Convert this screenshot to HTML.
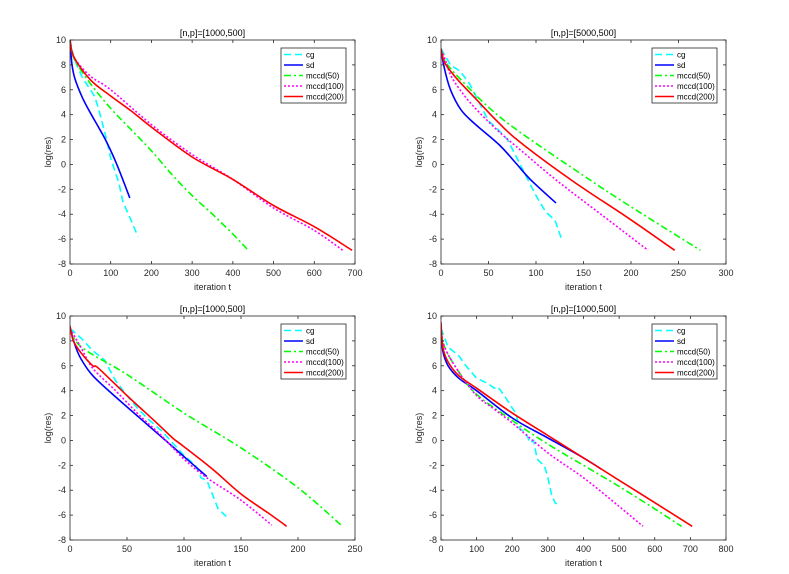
<!DOCTYPE html>
<html><head><meta charset="utf-8"><style>
html,body{margin:0;padding:0;background:#fff;width:789px;height:574px;overflow:hidden}
svg{font-family:"Liberation Sans",sans-serif}
</style></head><body>
<svg id="fig" width="789" height="574" viewBox="0 0 789 574" xmlns="http://www.w3.org/2000/svg"></svg>
<script>
const seriesNames = ["cg","sd","mccd(50)","mccd(100)","mccd(200)"];
const seriesColors = ["#00ffff","#0000ff","#00ff00","#ff00ff","#ff0000"];
const seriesDash = ["7,4","","7,3,2,3","2,2",""];
const panelTitles = ["[n,p]=[1000,500]","[n,p]=[5000,500]","[n,p]=[1000,500]","[n,p]=[1000,500]"];
const panelXMax = [700,300,250,800];
const panelXTicks = [[0,100,200,300,400,500,600,700],[0,50,100,150,200,250,300],[0,50,100,150,200,250],[0,100,200,300,400,500,600,700,800]];
const yTicks = [-8,-6,-4,-2,0,2,4,6,8,10];

// panel 1
const p1x = [[0,10,30,60,70,90,100,120,130,150,167],[0,5,12,30,49,70,90,115,147],[0,10,50,100,150,200,250,300,350,400,435],[0,10,50,100,200,300,400,500,600,670],[0,10,50,100,150,200,300,400,500,600,693]];
const p1y = [[10,8.5,7,5.5,4.5,2,0.5,-1.5,-3,-4.5,-5.8],[10,8,6.9,5.4,4.2,3.0,1.8,0,-2.7],[10,8.5,6.5,4.5,2.8,1.1,-0.8,-2.5,-4,-5.6,-6.8],[10,8.6,7.1,6,3.2,0.8,-1.2,-3.5,-5.3,-6.9],[10,8.6,6.8,5.5,4.3,3,0.6,-1.2,-3.3,-5,-6.9]];
// panel 2
const p2x = [[0,10,20,30,40,50,60,70,80,90,100,110,120,127],[0,3,10,21,35,61,80,94,121],[0,5,21,50,83,150,200,273],[0,5,10,20,35,60,83,122,170,218],[0,3,10,20,35,60,83,138,195,246]];
const p2y = [[9.3,8,7.5,6.5,5,3.5,2.8,2,0.5,-1,-2.5,-3.8,-4.5,-6],[9.3,7.9,6.0,4.4,3.3,1.6,0.0,-1.2,-3.1],[9.2,8.2,6.8,4.6,2.6,-0.9,-3.4,-6.9],[9.2,8.3,7.2,6,4.6,2.7,1.2,-1.3,-4.1,-6.9],[9.3,8.3,7.5,6.6,5.4,3.4,1.8,-1.3,-4.2,-6.9]];
// panel 3
const p3x = [[0,10,20,30,40,50,60,70,80,90,100,110,115,120,130,137],[0,5,10,20,40,60,80,100,120],[0,10,50,100,150,200,239],[0,10,20,40,60,80,100,120,150,177],[0,3,10,20,25,50,75,90,100,125,150,175,190]];
const p3y = [[9,8.2,7.2,6.5,4.8,3.6,2.5,1.6,0.8,-0.2,-1.2,-2,-3,-3.2,-5.5,-6.1],[9,7.5,6.5,5.2,3.5,1.9,0.3,-1.3,-2.9],[9,7.5,5.3,2.2,-0.6,-3.8,-6.9],[9,7.4,5.8,4,2.1,0.4,-1.5,-3,-4.8,-6.8],[9.2,8,7,6,5.8,3.6,1.5,0.2,-0.5,-2.3,-4.3,-5.9,-6.9]];
// panel 4
const p4x = [[0,20,50,70,100,130,150,160,180,200,210,220,240,250,260,270,280,290,300,310,320,325],[0,5,20,50,100,200,300,400,450],[0,10,50,100,200,300,400,500,600,675],[0,10,50,100,150,200,300,400,500,567],[0,5,20,50,100,200,300,400,500,600,705]];
const p4y = [[9,7.5,6.8,6,5,4.6,4.2,4.3,3.5,2.6,2.2,1,0.5,-0.2,0,-1.5,-1.8,-2,-3,-4.3,-5,-5.1],[9,7.2,6,5,4,1.8,0.2,-1.4,-2.3],[9,7.5,5.5,3.7,1.6,-0.3,-2,-3.7,-5.5,-6.9],[9,7.5,5.5,3.6,2.5,1.4,-1,-3,-5.3,-6.9],[9.5,7.5,6.3,5.2,4.2,2.2,0.4,-1.4,-3.2,-5,-6.9]];

const panelXs=[p1x,p2x,p3x,p4x], panelYs=[p1y,p2y,p3y,p4y];
const origins=[[70,40],[441,40],[70,316],[441,316]];
const W=285,H=224;
const NS="http://www.w3.org/2000/svg";
const fig=document.getElementById('fig');
function mk(tag,attrs,parent){const e=document.createElementNS(NS,tag);for(const k in attrs)e.setAttribute(k,attrs[k]);(parent||fig).appendChild(e);return e;}
function smoothPath(P){
  let d='M'+P[0][0].toFixed(1)+','+P[0][1].toFixed(1);
  for(let i=0;i<P.length-1;i++){
    const p0=P[Math.max(0,i-1)],p1=P[i],p2=P[i+1],p3=P[Math.min(P.length-1,i+2)];
    const c1=[p1[0]+(p2[0]-p0[0])/6,p1[1]+(p2[1]-p0[1])/6];
    const c2=[p2[0]-(p3[0]-p1[0])/6,p2[1]-(p3[1]-p1[1])/6];
    d+='C'+c1[0].toFixed(1)+','+c1[1].toFixed(1)+' '+c2[0].toFixed(1)+','+c2[1].toFixed(1)+' '+p2[0].toFixed(1)+','+p2[1].toFixed(1);
  }
  return d;
}

for(let p=0;p<4;p++){
  const [ox,oy]=origins[p];
  const xs=v=>ox+v/panelXMax[p]*W;
  const ys=v=>oy+(10-v)/18*H;
  const g=mk('g',{});
  
  
  const bg=mk('rect',{x:ox,y:oy,width:W,height:H,fill:'#fff'},g);
  
  
  const clipId='c'+p;
  const cp=mk('clipPath',{id:clipId},g);
  mk('rect',{x:ox,y:oy,width:W,height:H},cp);
  for(let s=0;s<5;s++){
    const X=panelXs[p][s],Y=panelYs[p][s];
    const pts=X.map((x,i)=>[xs(x),ys(Y[i])]);
    let d;
    if(s===0){d='';pts.forEach((q,i)=>{d+=(i?'L':'M')+q[0].toFixed(1)+','+q[1].toFixed(1);});}
    else d=smoothPath(pts);
    const a={d:d,fill:'none',stroke:seriesColors[s],'stroke-width':1.6,'clip-path':'url(#'+clipId+')'};
    if(seriesDash[s])a['stroke-dasharray']=seriesDash[s];
    const path=mk('path',a,g);
    
    
  }
  const box=mk('rect',{x:ox,y:oy,width:W,height:H,fill:'none',stroke:'#262626','stroke-width':0.8},g);
  
  
  for(const t of panelXTicks[p]){
    const x=xs(t);
    mk('line',{x1:x,y1:oy+H,x2:x,y2:oy+H-3,stroke:'#262626','stroke-width':0.8},g);
    mk('line',{x1:x,y1:oy,x2:x,y2:oy+3,stroke:'#262626','stroke-width':0.8},g);
    const tl=mk('text',{x:x,y:oy+H+12,'font-size':9,'text-anchor':'middle',fill:'#262626'},g);
    tl.textContent=t;
    
    
  }
  for(const t of yTicks){
    const y=ys(t);
    mk('line',{x1:ox,y1:y,x2:ox+3,y2:y,stroke:'#262626','stroke-width':0.8},g);
    mk('line',{x1:ox+W,y1:y,x2:ox+W-3,y2:y,stroke:'#262626','stroke-width':0.8},g);
    const tl=mk('text',{x:ox-4,y:y+3,'font-size':9,'text-anchor':'end',fill:'#262626'},g);
    tl.textContent=t;
    
    
  }
  const ti=mk('text',{x:ox+W/2,y:oy-4,'font-size':9,'text-anchor':'middle',fill:'#000'},g);
  ti.textContent=panelTitles[p];
  
  
  const xl=mk('text',{x:ox+W/2,y:oy+H+26,'font-size':9,'text-anchor':'middle',fill:'#262626'},g);
  xl.textContent='iteration t';
  
  
  const yl=mk('text',{x:0,y:0,'font-size':9,'text-anchor':'middle',fill:'#262626',transform:'translate('+(ox-19)+','+(oy+H/2)+') rotate(-90)'},g);
  yl.textContent='log(res)';
  
  
  const lx=ox+W-74,ly=oy+8;
  const lg=mk('g',{},g);
  
  
  mk('rect',{x:lx,y:ly,width:65,height:55,fill:'#fff',stroke:'#262626','stroke-width':0.8},lg);
  for(let s=0;s<5;s++){
    const yy=ly+6.5+s*10.5;
    const e=mk('g',{},lg);
    
    
    const a={x1:lx+3,y1:yy,x2:lx+22,y2:yy,stroke:seriesColors[s],'stroke-width':1.6};
    if(seriesDash[s])a['stroke-dasharray']=seriesDash[s];
    mk('line',a,e);
    const t=mk('text',{x:lx+25,y:yy+3,'font-size':8,fill:'#000'},e);
    t.textContent=seriesNames[s];
  }
}
</script>
</body></html>
